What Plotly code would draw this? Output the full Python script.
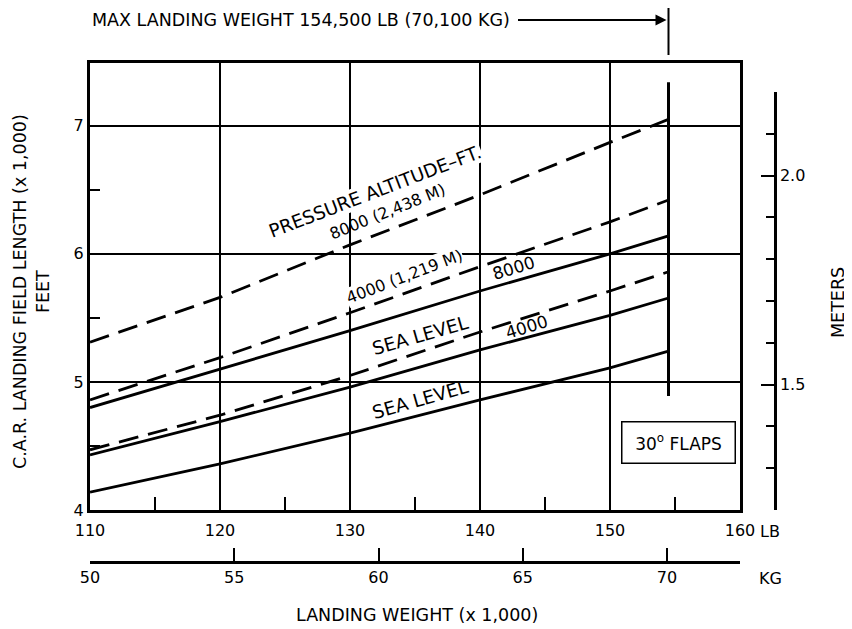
import plotly.graph_objects as go

# ---- data (landing weight x1000 lb, field length x1000 ft) ----
weight_lb = [110, 120, 130, 140, 150, 154.5]
solid_sea_level = [4.14, 4.36, 4.60, 4.86, 5.11, 5.24]
solid_4000 = [4.43, 4.69, 4.96, 5.25, 5.52, 5.655]
solid_8000 = [4.80, 5.10, 5.40, 5.71, 6.00, 6.14]
dash_sea_level = [4.47, 4.74, 5.05, 5.39, 5.71, 5.86]
dash_4000 = [4.86, 5.19, 5.54, 5.90, 6.25, 6.42]
dash_8000 = [5.31, 5.66, 6.07, 6.46, 6.87, 7.05]
MAX_LANDING_LB = 154.5

lb_ticks = [110, 120, 130, 140, 150, 160]
kg_ticks = [50, 55, 60, 65, 70]
ft_ticks = [4, 5, 6, 7]

FONT = "DejaVu Sans, Liberation Sans, Arial, sans-serif"
BLACK = "#000000"

fig = go.Figure()

LW = 2.8
DASH = "20px,10px"
for ys, dash in [(solid_sea_level, "solid"), (solid_4000, "solid"), (solid_8000, "solid"),
                 (dash_sea_level, DASH), (dash_4000, DASH), (dash_8000, DASH)]:
    fig.add_trace(go.Scatter(x=weight_lb, y=ys, mode="lines",
                             line=dict(color=BLACK, width=LW, dash=dash),
                             hoverinfo="skip", showlegend=False))

# dummy traces to activate secondary axes
fig.add_trace(go.Scatter(x=[130], y=[1.5], xaxis="x", yaxis="y2", mode="markers",
                         marker=dict(opacity=0), hoverinfo="skip", showlegend=False))
fig.add_trace(go.Scatter(x=[60], y=[5], xaxis="x2", yaxis="y", mode="markers",
                         marker=dict(opacity=0), hoverinfo="skip", showlegend=False))

# page body has an 8px margin: work in screen pixels and shift
OFF = 8
W, H = 852 - OFF, 629 - OFF
L = 90 - OFF
T = 63 - OFF
R = W - (775 - OFF)
B = H - (562 - OFF)
PW = W - L - R
PH = H - T - B


def px_x(sx):
    return (sx - OFF - L) / PW


def px_y(sy):
    return (H - B - (sy - OFF)) / PH


xdom_hi = px_x(740)
ydom_lo = px_y(510)
y2_top = px_y(92)

tickfont = dict(family=FONT, size=16, color=BLACK)

fig.update_layout(
    template="none",
    width=W, height=H,
    margin=dict(l=L, r=R, t=T, b=B, autoexpand=False),
    paper_bgcolor="white", plot_bgcolor="rgba(0,0,0,0)",
    font=dict(family=FONT, color=BLACK, size=17),
    xaxis=dict(domain=[0, xdom_hi], range=[110, 160], tickvals=lb_ticks,
               showline=True, linecolor=BLACK, linewidth=2.5, mirror=True,
               showgrid=True, gridcolor=BLACK, gridwidth=1.8,
               ticks="inside", ticklen=0, tickfont=tickfont, ticklabelstandoff=4,
               minor=dict(dtick=5, tick0=110, ticks="inside", ticklen=13, tickwidth=2,
                          tickcolor=BLACK, showgrid=False),
               zeroline=False, fixedrange=True, anchor="y", automargin=False),
    yaxis=dict(domain=[ydom_lo, 1], range=[4, 7.49], tickvals=ft_ticks,
               showline=True, linecolor=BLACK, linewidth=3, mirror=True,
               showgrid=True, gridcolor=BLACK, gridwidth=1.8,
               ticks="inside", ticklen=0, tickfont=tickfont,
               minor=dict(dtick=0.5, tick0=4, ticks="inside", ticklen=10, tickwidth=2,
                          tickcolor=BLACK, showgrid=False),
               zeroline=False, fixedrange=True, anchor="x", automargin=False),
    xaxis2=dict(overlaying="x", anchor="free", position=0, side="bottom",
                range=[50, 72.53], tickvals=kg_ticks,
                showline=True, linecolor=BLACK, linewidth=2.5,
                showgrid=False, zeroline=False,
                ticks="inside", ticklen=13, tickwidth=2, tickcolor=BLACK,
                tickfont=tickfont, fixedrange=True, automargin=False),
    yaxis2=dict(domain=[ydom_lo, y2_top], anchor="free", position=1, side="right",
                range=[1.2, 2.2], tickvals=[1.5, 2.0], ticktext=["1.5", "2.0"],
                showline=True, linecolor=BLACK, linewidth=2.5,
                showgrid=False, zeroline=False,
                ticks="inside", ticklen=13, tickwidth=2, tickcolor=BLACK,
                minor=dict(dtick=0.1, tick0=1.2, ticks="inside", ticklen=8, tickwidth=2,
                           tickcolor=BLACK, showgrid=False),
                tickfont=tickfont, fixedrange=True, automargin=False),
)

ann = []


def paper_text(text, sx, sy, size=17.5, angle=0, xanchor="center"):
    ann.append(dict(xref="paper", yref="paper", x=px_x(sx), y=px_y(sy), text=text,
                    textangle=angle, showarrow=False, font=dict(size=size),
                    xanchor=xanchor, yanchor="middle"))


# axis titles and unit labels
paper_text("C.A.R. LANDING FIELD LENGTH (x 1,000)<br>FEET", 31, 292, angle=-90)
paper_text("METERS", 838, 302, angle=-90)
paper_text("LB", 770, 531, size=16)
paper_text("KG", 770, 578, size=16)
paper_text("LANDING WEIGHT (x 1,000)", 417, 615)
paper_text("MAX LANDING WEIGHT 154,500 LB (70,100 KG)", 90, 20, xanchor="left")
# arrow to max landing weight
ann.append(dict(xref="x", yref="paper", x=MAX_LANDING_LB, y=px_y(20), ax=-152, ay=0,
                text="", showarrow=True, arrowhead=2, arrowsize=1.1, arrowwidth=2,
                arrowcolor=BLACK, standoff=2))


# in-plot curve labels (rotated)
def lab(text, x, y, ang, bg=None, size=17):
    d = dict(xref="x", yref="y", x=x, y=y, text=text, textangle=ang,
             showarrow=False, font=dict(size=size), borderpad=0,
             xanchor="center", yanchor="middle")
    if bg:
        d["bgcolor"] = bg
    ann.append(d)


lab("PRESSURE ALTITUDE\u2013FT.", 131.9, 6.49, -21, bg="white", size=18.5)
lab("8000 (2,438 M)", 132.9, 6.33, -22, size=16)
lab("4000 (1,219 M)", 134.2, 5.82, -21, bg="white", size=16)
lab("8000", 142.6, 5.89, -17)
lab("SEA LEVEL", 135.4, 5.36, -16, size=18.5)
lab("4000", 143.6, 5.43, -17)
lab("SEA LEVEL", 135.4, 4.86, -16, size=18.5)

ann.append(dict(xref="x", yref="y", x=155.3, y=4.53, text="30<sup>o</sup> FLAPS",
                showarrow=False, font=dict(size=17), bgcolor="white",
                bordercolor=BLACK, borderwidth=1.5, borderpad=7, width=98, height=26,
                xanchor="center", yanchor="middle"))

fig.update_layout(annotations=ann)

shapes = [
    dict(type="line", xref="x", yref="paper", x0=MAX_LANDING_LB, x1=MAX_LANDING_LB,
         y0=px_y(55), y1=px_y(5), line=dict(color=BLACK, width=2)),
    dict(type="line", xref="x", yref="y", x0=MAX_LANDING_LB, x1=MAX_LANDING_LB,
         y0=4.89, y1=7.34, line=dict(color=BLACK, width=3)),
]
fig.update_layout(shapes=shapes)

fig.write_html("out.html")
